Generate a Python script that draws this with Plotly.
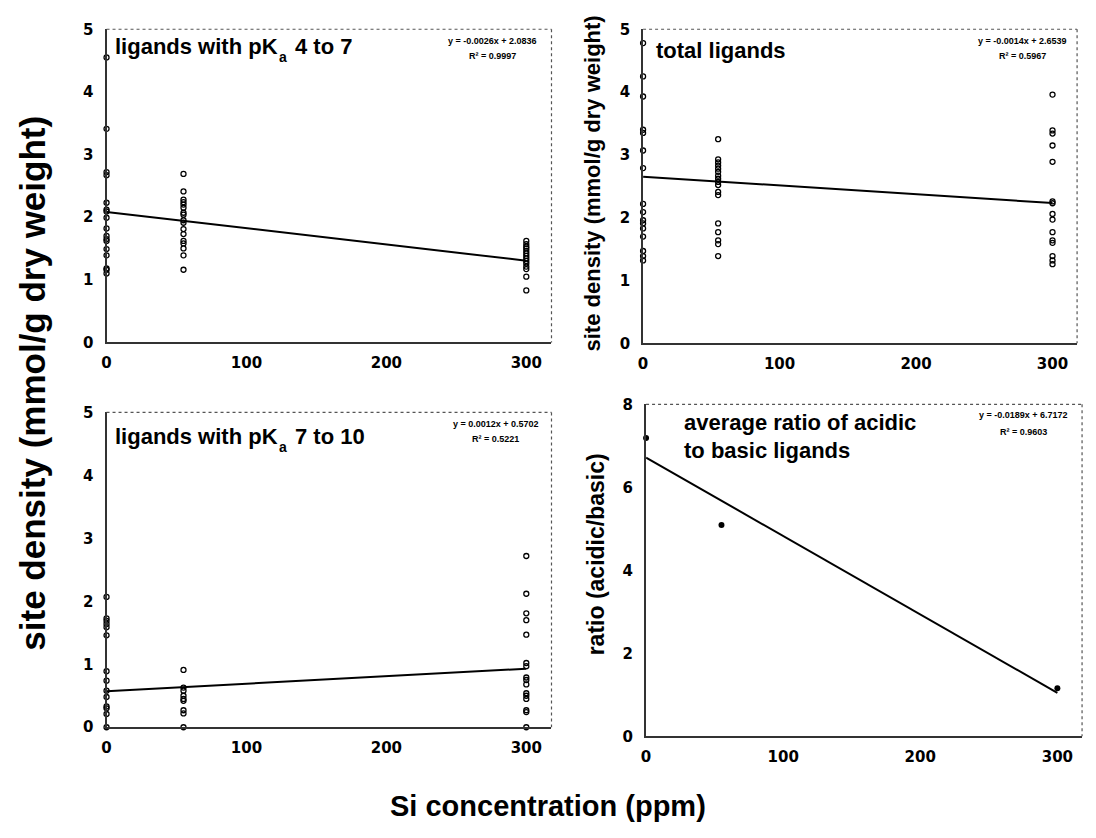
import plotly.graph_objects as go

# ---------------- data ----------------
si_levels = [0, 55, 300]

# ligands with pKa 4 to 7
pk47_si0 = [4.55, 3.41, 2.72, 2.67, 2.23, 2.12, 2.09, 1.99, 1.82, 1.70, 1.65, 1.62, 1.49, 1.39, 1.18, 1.16, 1.10]
pk47_si55 = [2.69, 2.41, 2.28, 2.24, 2.20, 2.15, 2.07, 2.04, 1.95, 1.91, 1.81, 1.73, 1.62, 1.58, 1.50, 1.39, 1.16]
pk47_si300 = [1.62, 1.57, 1.53, 1.50, 1.46, 1.42, 1.38, 1.34, 1.30, 1.26, 1.21, 1.17, 1.05, 0.83]
pk47_fit = (-0.0026, 2.0836)

# total ligands
tot_si0 = [4.78, 4.25, 3.93, 3.40, 3.35, 3.07, 2.79, 2.22, 2.09, 1.96, 1.91, 1.83, 1.70, 1.47, 1.39, 1.32]
tot_si55 = [3.25, 2.93, 2.88, 2.83, 2.78, 2.73, 2.67, 2.62, 2.57, 2.52, 2.41, 2.36, 1.91, 1.77, 1.64, 1.58, 1.39]
tot_si300 = [3.96, 3.39, 3.34, 3.15, 2.89, 2.26, 2.23, 2.06, 1.97, 1.77, 1.64, 1.60, 1.39, 1.32, 1.26]
tot_fit = (-0.0014, 2.6539)

# ligands with pKa 7 to 10
pk710_si0 = [2.07, 1.73, 1.69, 1.64, 1.59, 1.46, 0.89, 0.74, 0.58, 0.48, 0.33, 0.30, 0.21, 0.0]
pk710_si55 = [0.91, 0.63, 0.58, 0.50, 0.45, 0.42, 0.27, 0.22, 0.0]
pk710_si300 = [2.72, 2.12, 1.81, 1.70, 1.47, 1.02, 0.97, 0.79, 0.75, 0.68, 0.54, 0.50, 0.45, 0.27, 0.24, 0.0]
pk710_fit = (0.0012, 0.5702)

# average ratio acidic / basic
ratio_vals = [7.19, 5.09, 1.16]
ratio_fit = (-0.0189, 6.7172)

eq_texts = [
    ("y = -0.0026x + 2.0836", "R² = 0.9997"),
    ("y = -0.0014x + 2.6539", "R² = 0.5967"),
    ("y = 0.0012x + 0.5702", "R² = 0.5221"),
    ("y = -0.0189x + 6.7172", "R² = 0.9603"),
]
x_ticks = [0, 100, 200, 300]

# ---------------- layout helpers ----------------
W, H = 1096, 838
def fx(p):
    return p / W
def fy(p):
    return 1 - p / H

# panel pixel boxes (left, right, top, bottom)
boxes = [
    (102, 549, 20.7, 340.7),
    (641, 1077, 20.7, 341.7),
    (102, 549, 412.3, 734),
    (644, 1082, 404, 743.3),
]

fig = go.Figure()

def groups_to_xy(g0, g55, g300):
    xs, ys = [], []
    for sx, grp in zip(si_levels, [g0, g55, g300]):
        xs += [sx] * len(grp)
        ys += grp
    return xs, ys

panels = [
    groups_to_xy(pk47_si0, pk47_si55, pk47_si300),
    groups_to_xy(tot_si0, tot_si55, tot_si300),
    groups_to_xy(pk710_si0, pk710_si55, pk710_si300),
    (si_levels, ratio_vals),
]
fits = [pk47_fit, tot_fit, pk710_fit, ratio_fit]

for i, ((xs, ys), (m, b)) in enumerate(zip(panels, fits)):
    ax = "" if i == 0 else str(i + 1)
    xa, ya = "x" + ax, "y" + ax
    if i < 3:
        marker = dict(symbol="circle-open", size=5, color="black", line=dict(width=1.3, color="black"))
    else:
        marker = dict(symbol="circle", size=6, color="black")
    fig.add_trace(go.Scatter(x=xs, y=ys, mode="markers", marker=marker,
                             xaxis=xa, yaxis=ya, cliponaxis=False, showlegend=False))
    xfit = [min(si_levels), max(si_levels)]
    yfit = [m * v + b for v in xfit]
    fig.add_trace(go.Scatter(x=xfit, y=yfit, mode="lines", line=dict(color="black", width=2),
                             xaxis=xa, yaxis=ya, cliponaxis=False, showlegend=False))

tickfont = dict(family="DejaVu Sans", size=15, color="black", weight="bold")
yranges = [[0, 5], [0, 5], [0, 5], [0, 8]]
ydticks = [1, 1, 1, 2]

layout = dict(
    width=W, height=H,
    margin=dict(l=0, r=0, t=0, b=0),
    paper_bgcolor="white", plot_bgcolor="white",
    showlegend=False,
)
for i, (l, r, t, bt) in enumerate(boxes):
    sfx = "" if i == 0 else str(i + 1)
    layout["xaxis" + sfx] = dict(
        domain=[fx(l), fx(r)], range=[0, 318], tickvals=x_ticks,
        showgrid=False, zeroline=False, showline=True, linecolor="#333", linewidth=2,
        ticks="", tickfont=tickfont, ticklabelstandoff=6,
        anchor="y" + sfx, fixedrange=True,
    )
    layout["yaxis" + sfx] = dict(
        domain=[fy(bt), fy(t)], range=yranges[i], dtick=ydticks[i],
        showgrid=False, zeroline=False, showline=True, linecolor="#333", linewidth=2,
        ticks="", tickfont=tickfont, ticklabelstandoff=8,
        anchor="x" + sfx, fixedrange=True,
    )
fig.update_layout(**layout)

# dotted plot-area borders (top and right)
for i, (l, r, t, bt) in enumerate(boxes):
    fig.add_shape(type="line", xref="paper", yref="paper",
                  x0=fx(l), x1=fx(r), y0=fy(t), y1=fy(t),
                  line=dict(color="#555", width=1.2, dash="dot"))
    fig.add_shape(type="line", xref="paper", yref="paper",
                  x0=fx(r), x1=fx(r), y0=fy(t), y1=fy(bt),
                  line=dict(color="#555", width=1.2, dash="dot"))

def note(x, y, text, size, xanchor="left", angle=0):
    fig.add_annotation(x=fx(x), y=fy(y), xref="paper", yref="paper", text=text,
                       showarrow=False, xanchor=xanchor, yanchor="middle", borderpad=0,
                       textangle=angle,
                       font=dict(family="Liberation Sans, Arial", size=size, color="black",
                                 weight="bold"))

# panel titles (subscript "a" drawn as its own smaller text)
note(109, 38, "ligands with pK", 22)
note(274, 49, "a", 14)
note(290, 38, "4 to 7", 22)
note(653, 42, "total ligands", 22)
note(109, 437, "ligands with pK", 22)
note(274, 448, "a", 14)
note(290, 437, "7 to 10", 22)
note(681, 423, "average ratio of acidic", 22)
note(681, 451, "to basic ligands", 22)

# trendline equations
eq_pos = [(490, 33, 48), (1022, 33, 48), (493, 424, 439), (1023, 415, 432)]
for (ex, ey1, ey2), (t1, t2) in zip(eq_pos, eq_texts):
    note(ex, ey1, t1, 9, xanchor="center")
    note(ex, ey2, t2, 9, xanchor="center")

# axis titles
note(28, 382, "site density (mmol/g dry weight)", 35, xanchor="center", angle=-90)
note(590, 178, "site density (mmol/g dry weight)", 22, xanchor="center", angle=-90)
note(594, 557, "ratio (acidic/basic)", 23, xanchor="center", angle=-90)
note(545, 815, "Si concentration (ppm)", 29, xanchor="center")

fig.write_html("out.html")
